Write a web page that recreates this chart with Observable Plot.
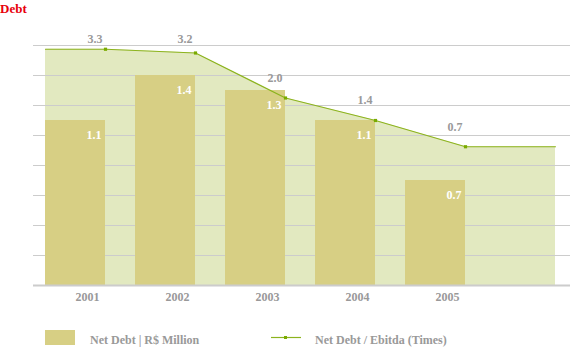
<!DOCTYPE html>
<html><head><meta charset="utf-8">
<script src="https://cdn.jsdelivr.net/npm/d3@7"></script>
<script src="https://cdn.jsdelivr.net/npm/@observablehq/plot@0.6"></script>
<style>
body{margin:0;background:#fff;}
#wrap{position:relative;width:585px;height:360px;font-family:"Liberation Serif",serif;overflow:hidden;}
#chart{position:absolute;left:0;top:0;}
#title{position:absolute;left:0;top:1px;color:#e8000b;font-weight:bold;font-size:13px;line-height:16px;}
.legtext{position:absolute;top:333px;color:#999;font-weight:bold;font-size:12px;line-height:14px;white-space:nowrap;}
.legsw{position:absolute;}
</style></head>
<body><div id="wrap"><div id="chart"></div><div id="title">Debt</div><div id="legend"></div></div>
<script>
const years = [2001, 2002, 2003, 2004, 2005];
const netDebt = [1.1, 1.4, 1.3, 1.1, 0.7];
const ratio = [3.3, 3.2, 2.0, 1.4, 0.7];
const barLabels = ["1.1", "1.4", "1.3", "1.1", "0.7"];
const ratioLabels = ["3.3", "3.2", "2.0", "1.4", "0.7"];
const gridTicks = [0.2, 0.4, 0.6, 0.8, 1.0, 1.2, 1.4, 1.6];
const seriesNames = ["Net Debt | R$ Million", "Net Debt / Ebitda (Times)"];

const barColor = "#d7cf84", areaColor = "#e2e9c0", lineColor = "#8cb31e", markColor = "#7aab00";
const barWidth = 2 / 3;                 // bar share of each year slot
const sec = v => (v + 3) / 4;           // secondary axis [-3, 3.4] onto primary [0, 1.6]
const labelCeiling = 1.5067;            // keep ratio labels below the top

const bars = years.map((y, i) => ({x1: y, x2: y + barWidth, v: netDebt[i], label: barLabels[i]}));
const pts = years.map((y, i) => ({x: y + barWidth, r: ratio[i], label: ratioLabels[i]}));
const path = [{x: years[0], r: ratio[0]}, ...pts, {x: years[years.length - 1] + 1 + barWidth, r: ratio[ratio.length - 1]}];

const chart = Plot.plot({
  width: 585, height: 360,
  marginTop: 45, marginBottom: 75, marginLeft: 33, marginRight: 15,
  x: {type: "linear", domain: [2001 - 12 / 90, 2001 + 525 / 90]},
  y: {domain: [0, 1.6], axis: null},
  style: {fontFamily: "Liberation Serif", fontWeight: "bold", fontSize: "12px", color: "#999", background: "transparent"},
  marks: [
    Plot.areaY(path, {x: "x", y: d => sec(d.r), fill: areaColor}),
    Plot.ruleY(gridTicks, {stroke: "#cccccc", strokeWidth: 1}),
    Plot.rectY(bars, {x1: "x1", x2: "x2", y: "v", fill: barColor}),
    Plot.ruleY([0], {stroke: "#cccccc", strokeWidth: 2}),
    Plot.lineY(path, {x: "x", y: d => sec(d.r), stroke: lineColor, strokeWidth: 1.2}),
    Plot.dot(pts, {x: "x", y: d => sec(d.r), symbol: "square", r: 1.8, fill: markColor}),
    Plot.text(bars, {x: "x2", y: "v", text: "label", fill: "white", textAnchor: "end", dx: -4, dy: 15}),
    Plot.text(pts, {x: "x", y: d => Math.min(sec(d.r), labelCeiling), text: "label", fill: "#999", textAnchor: "end", dx: -3, dy: -20}),
    Plot.axisX({ticks: years, tickFormat: d => String(d), tickSize: 0, tickPadding: 7, dx: 42, fill: "#999"})
  ]
});
document.getElementById("chart").appendChild(chart);

// Legend
const leg = d3.select("#legend");
leg.append("div").attr("class", "legsw")
  .style("left", "45px").style("top", "330px").style("width", "30px").style("height", "15px").style("background", barColor);
leg.append("div").attr("class", "legtext").style("left", "90px").text(seriesNames[0]);
const ls = leg.append("svg").attr("class", "legsw").style("left", "271px").style("top", "332px")
  .attr("width", 30).attr("height", 10);
ls.append("line").attr("x1", 0).attr("x2", 30).attr("y1", 5.5).attr("y2", 5.5).attr("stroke", lineColor).attr("stroke-width", 1.2);
ls.append("rect").attr("x", 13).attr("y", 4).attr("width", 3).attr("height", 3).attr("fill", markColor);
leg.append("div").attr("class", "legtext").style("left", "315px").text(seriesNames[1]);
</script>
</body></html>
